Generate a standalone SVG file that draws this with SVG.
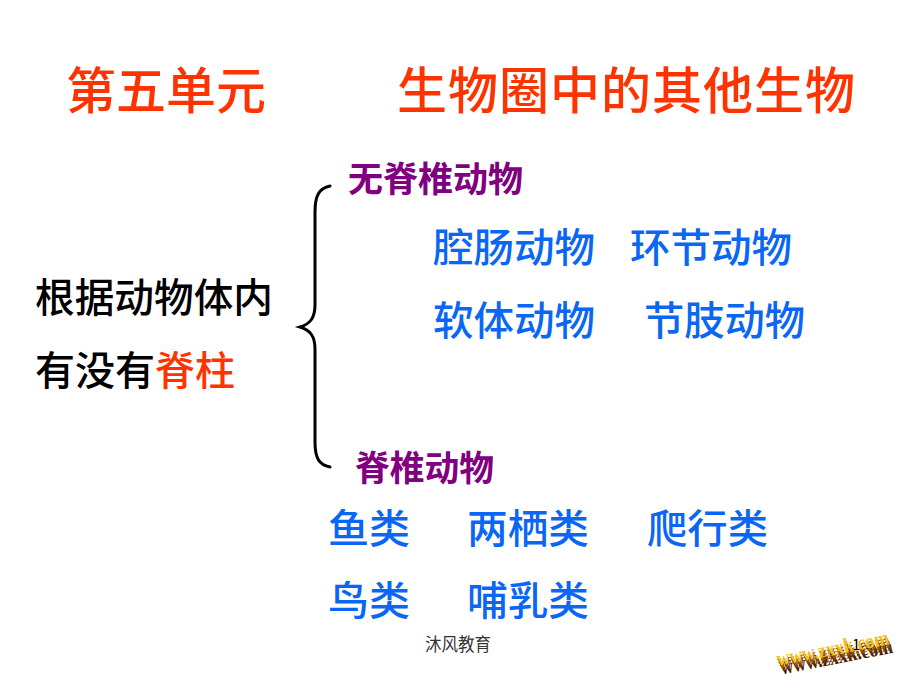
<svg xmlns="http://www.w3.org/2000/svg" width="920" height="690" viewBox="0 0 920 690">
<style>
text{font-family:"Noto Sans CJK SC","Noto Sans CJK JP",sans-serif}
.title{fill:#FF3300;font-size:50px;font-weight:500}
.blk{fill:#000;font-size:40px;font-weight:500}
.red{fill:#FF3300}
.pur{fill:#800080;font-size:35px;font-weight:700}
.blu{fill:#0A66F5;font-size:40px;font-weight:500}
.foot{fill:#333;font-size:18px;font-weight:400}
.brace{fill:none;stroke:#000;stroke-width:3;stroke-linecap:round}
.logo{font-family:"Liberation Serif",serif;font-weight:700;font-size:21px}
</style>
<rect width="920" height="690" fill="#fff"/>
<g id="title">
<text class="title" x="66" y="109" textLength="200" lengthAdjust="spacingAndGlyphs">第五单元</text>
<text class="title" x="397" y="109" textLength="458" lengthAdjust="spacing">生物圈中的其他生物</text>
</g>
<g id="criterion">
<text class="blk" x="35" y="312" textLength="238" lengthAdjust="spacingAndGlyphs">根据动物体内</text>
<text class="blk" x="35" y="385">有没有<tspan class="red">脊柱</tspan></text>
</g>
<g id="connectors">
<path class="brace" d="M330,186 C319,188 315,196 315,212 L315,305 C315,318 310,324 300,327 C310,330 315,336 315,349 L315,442 C315,458 319,465 330,467"/>
</g>
<g id="invertebrates">
<text class="pur" x="348" y="192" textLength="175" lengthAdjust="spacingAndGlyphs">无脊椎动物</text>
<text class="blu" x="433" y="262" textLength="162" lengthAdjust="spacingAndGlyphs">腔肠动物</text>
<text class="blu" x="630" y="262" textLength="162" lengthAdjust="spacingAndGlyphs">环节动物</text>
<text class="blu" x="433" y="335" textLength="162" lengthAdjust="spacingAndGlyphs">软体动物</text>
<text class="blu" x="644" y="335" textLength="161" lengthAdjust="spacingAndGlyphs">节肢动物</text>
</g>
<g id="vertebrates">
<text class="pur" x="355" y="481" textLength="139" lengthAdjust="spacingAndGlyphs">脊椎动物</text>
<text class="blu" x="328" y="543" textLength="82" lengthAdjust="spacingAndGlyphs">鱼类</text>
<text class="blu" x="467" y="543" textLength="122" lengthAdjust="spacingAndGlyphs">两栖类</text>
<text class="blu" x="647" y="543" textLength="121" lengthAdjust="spacingAndGlyphs">爬行类</text>
<text class="blu" x="328" y="615" textLength="82" lengthAdjust="spacingAndGlyphs">鸟类</text>
<text class="blu" x="467" y="615" textLength="122" lengthAdjust="spacingAndGlyphs">哺乳类</text>
</g>
<g id="footer">
<text class="foot" x="425" y="651" textLength="66" lengthAdjust="spacingAndGlyphs">沐风教育</text>
</g>
<g id="logo" transform="translate(778,666) rotate(-11)">
<text class="logo" x="2" y="9" fill="#4a1e00" textLength="114" lengthAdjust="spacingAndGlyphs">www.zxxk.com</text>
<text class="logo" x="1" y="6" fill="#6b3300" textLength="114" lengthAdjust="spacingAndGlyphs">www.zxxk.com</text>
<text class="logo" x="0.5" y="3" fill="#9a5200" textLength="114" lengthAdjust="spacingAndGlyphs">www.zxxk.com</text>
<text class="logo" x="0" y="0" fill="#F2C21A" textLength="114" lengthAdjust="spacingAndGlyphs">www.zxxk.com</text>
</g>
<text x="852" y="650" font-family="Liberation Serif,serif" font-size="15" fill="#000">1</text>
</svg>
